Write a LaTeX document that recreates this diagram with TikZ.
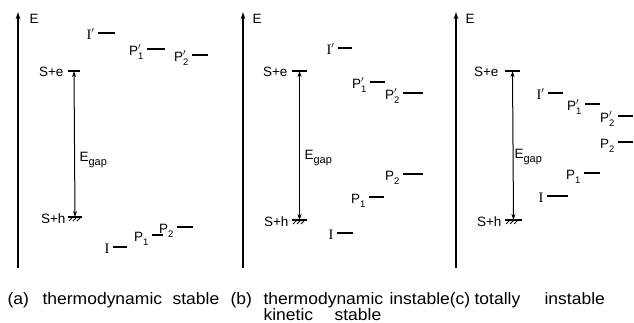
\documentclass[tikz,border=0pt]{standalone}
\usepackage{fontspec}
\setmainfont{Liberation Sans}
\newfontfamily\serifI{Liberation Serif}
\newfontfamily\capfont[FakeStretch=1.06]{Liberation Sans}
\usetikzlibrary{arrows.meta}
\newcommand{\lev}[3]{#1\rlap{#2}\raisebox{-0.6ex}{\fontsize{9.5}{10}\selectfont #3}}
\newcommand{\levline}[5]{%
  \coordinate (#1a) at (#2,#4); \coordinate (#1b) at (#3,#4);
  \draw[lvl] (#1a) -- (#1b);
  \node[lbl, anchor=base east] (#1) at ([xshift=-3pt,yshift=-6pt]#1a) {#5};}
\newcommand{\hatchline}[4]{%
  \coordinate (#1) at ({(#2+#3)/2},#4);
  \draw[lvl] (#2,#4) -- (#3,#4);
  \foreach \k in {0,1,2} \draw[line width=0.9pt] ({#2+5+4*\k},#4) -- ++(-4,4);}
\newcommand{\tickline}[4]{%
  \coordinate (#1) at ({(#2+#3)/2},#4);
  \draw[lvl] (#2,#4) -- (#3,#4);}
\newcommand{\egap}{E\raisebox{-0.5ex}{\fontsize{11}{12}\selectfont gap}}
\begin{document}
\begin{tikzpicture}[x=1pt,y=-1pt,line width=1.2pt,
  lbl/.style={font=\fontsize{13.5}{15}\selectfont, inner sep=0pt},
  elbl/.style={font=\fontsize{13.5}{15}\selectfont, inner sep=0pt, anchor=west},
  captxt/.style={font=\capfont\fontsize{16.5}{18}\selectfont, inner sep=0pt, anchor=base west},
  axis/.style={-{Stealth[length=7pt,width=4.5pt]}},
  gap/.style={{Stealth[length=6pt,width=4pt]}-{Stealth[length=6pt,width=4pt]}, line width=1pt},
  lvl/.style={line width=1.2pt}]
\useasboundingbox (0,0) rectangle (634,322);

% ---------- panel (a)
\coordinate (a0) at (18,268); \coordinate (a1) at (18,12);
\draw[axis] (a0) -- (a1);
\node[elbl] (aE) at (29,19) {E};
\tickline{ase}{68}{80}{71}
\hatchline{ash}{68}{82}{217}
\draw[gap] (ase) -- (ash);
\node[lbl, anchor=base east] (asel) at (64,76) {S+e};
\node[lbl, anchor=base east] (ashl) at (66,223) {S+h};
\node[elbl] (ag) at (79,160) {\egap};
\levline{aIp}{98}{115}{33}{{\serifI\fontsize{14.5}{15}\selectfont I}$'$}
\levline{aP1p}{147}{165}{49}{\lev{P}{$'$}{1}}
\levline{aP2p}{192}{208}{55}{\lev{P}{$'$}{2}}
\levline{aI}{113}{127}{247}{{\serifI\fontsize{14.5}{15}\selectfont I}}
\levline{aP1}{152}{163}{235}{\lev{P}{}{1}}
\levline{aP2}{177}{193}{227}{\lev{P}{}{2}}

% ---------- panel (b)
\coordinate (b0) at (243,268); \coordinate (b1) at (243,12);
\draw[axis] (b0) -- (b1);
\node[elbl] (bE) at (252,19) {E};
\tickline{bse}{292}{307}{71}
\hatchline{bsh}{292}{307}{220}
\draw[gap] (bse) -- (bsh);
\node[lbl, anchor=base east] (bsel) at (288,76) {S+e};
\node[lbl, anchor=base east] (bshl) at (289,226) {S+h};
\node[elbl] (bg) at (304,158) {\egap};
\levline{bIp}{338}{352}{48}{{\serifI\fontsize{14.5}{15}\selectfont I}$'$}
\levline{bP1p}{370}{385}{82}{\lev{P}{$'$}{1}}
\levline{bP2p}{403}{423}{93}{\lev{P}{$'$}{2}}
\levline{bP2}{403}{423}{174}{\lev{P}{}{2}}
\levline{bP1}{369}{384}{197}{\lev{P}{}{1}}
\levline{bI}{337}{353}{233}{{\serifI\fontsize{14.5}{15}\selectfont I}}

% ---------- panel (c)
\coordinate (c0) at (456,268); \coordinate (c1) at (456,12);
\draw[axis] (c0) -- (c1);
\node[elbl] (cE) at (465,19) {E};
\tickline{cse}{505}{520}{71}
\hatchline{csh}{505}{522}{220}
\draw[gap] (cse) -- (csh);
\node[lbl, anchor=base east] (csel) at (499,76) {S+e};
\node[lbl, anchor=base east] (cshl) at (502,226) {S+h};
\node[elbl] (cg) at (514,157) {\egap};
\levline{cIp}{548}{563}{93}{{\serifI\fontsize{14.5}{15}\selectfont I}$'$}
\levline{cP1p}{585}{600}{104}{\lev{P}{$'$}{1}}
\levline{cP2p}{618}{633}{116}{\lev{P}{$'$}{2}}
\levline{cP2}{618}{633}{142}{\lev{P}{}{2}}
\levline{cP1}{584}{600}{173}{\lev{P}{}{1}}
\levline{cI}{547}{568}{196}{{\serifI\fontsize{14.5}{15}\selectfont I}}

% ---------- captions
\node[captxt] (t1) at (7,304) {(a)};
\node[captxt] (t2) at (42,304) {thermodynamic};
\node[captxt] (t3) at (172,304) {stable};
\node[captxt] (t4) at (230,304) {(b)};
\node[captxt] (t5) at (263,304) {thermodynamic};
\node[captxt] (t6) at (389,304) {instable(c)};
\node[captxt] (t7) at (474,304) {totally};
\node[captxt] (t8) at (544,304) {instable};
\node[captxt] (t9) at (263,320) {kinetic};
\node[captxt] (t10) at (334,320) {stable};
\end{tikzpicture}
\end{document}
